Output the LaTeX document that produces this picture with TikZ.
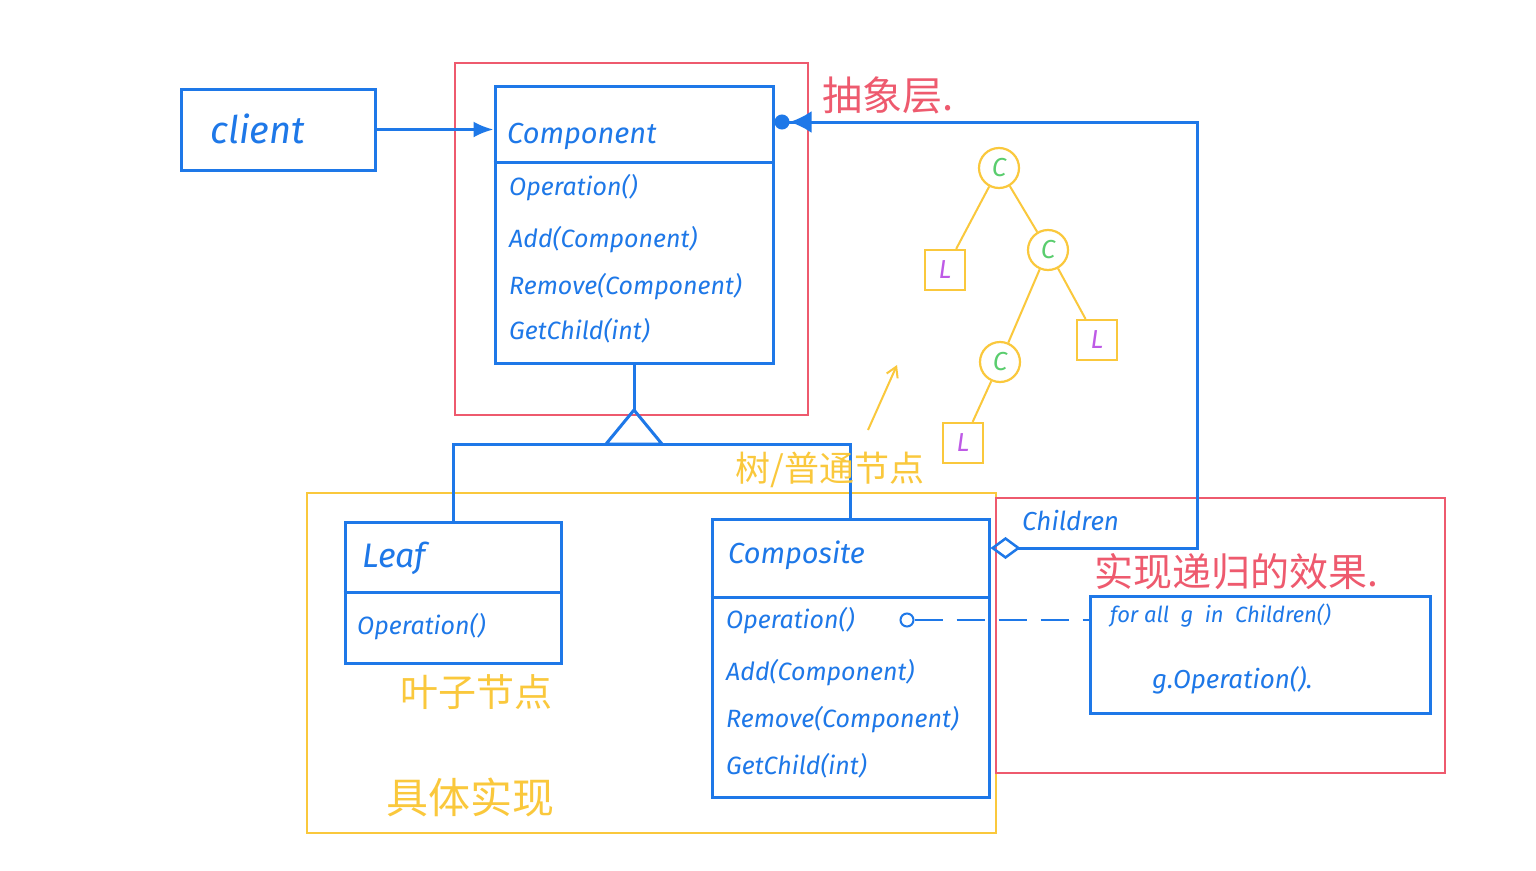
\documentclass[tikz,border=0pt]{standalone}
\usepackage{fontspec}
\setmainfont{Fira Sans}
\newfontfamily\cjk{Noto Sans CJK SC}
\usetikzlibrary{arrows.meta}
\definecolor{umlblue}{RGB}{30,120,232}
\definecolor{pencilred}{RGB}{238,90,110}
\definecolor{pencilyellow}{RGB}{250,200,60}
\definecolor{leafgreen}{RGB}{90,205,110}
\definecolor{leafpurple}{RGB}{190,90,230}
\begin{document}
\begin{tikzpicture}[x=1pt, y=-1pt,
	umlbox/.style={draw=umlblue, line width=3pt, rectangle, inner sep=0pt},
	umlline/.style={draw=umlblue, line width=3pt},
	txt/.style={text=umlblue, font=\itshape\fontsize{#1}{#1}\selectfont, inner sep=0pt, anchor=west},
	note/.style={font=\cjk\fontsize{#1}{#1}\selectfont, inner sep=0pt},
	frame/.style={draw=#1, line width=1.2pt},
	cnode/.style={draw=pencilyellow, line width=2.2pt, circle, minimum size=40pt, inner sep=0pt,
		text=leafgreen, font=\itshape\fontsize{26}{26}\selectfont},
	lnode/.style={draw=pencilyellow, line width=2.2pt, rectangle, minimum size=40pt, inner sep=0pt,
		text=leafpurple, font=\itshape\fontsize{26}{26}\selectfont},
	twig/.style={draw=pencilyellow, line width=2pt}]

	\useasboundingbox[fill=white] (0,0) rectangle (1536,870);

% Marcos
	\draw[frame=pencilred] (455,63) rectangle (808,415);
	\draw[frame=pencilyellow] (307,493) rectangle (996,833);
	\draw[frame=pencilred] (996,498) rectangle (1445,773);

% Clases
	\node[umlbox, minimum width=194pt, minimum height=81pt] (client) at (278,129.5) {};
	\node[txt=38] at (210,129) {client};

	\node[umlbox, minimum width=278pt, minimum height=277pt] (comp) at (634,224.5) {};
	\draw[umlline] (comp.west |- 0,162) -- (comp.east |- 0,162);
	\node[txt=29] at (507,136) {Component};
	\node[txt=25] at (509,188) {Operation()};
	\node[txt=25] at (509,240) {Add(Component)};
	\node[txt=25] at (509,287) {Remove(Component)};
	\node[txt=25] at (509,331) {GetChild(int)};

	\node[umlbox, minimum width=216pt, minimum height=141pt] (leaf) at (453,592.5) {};
	\draw[umlline] (leaf.west |- 0,592) -- (leaf.east |- 0,592);
	\node[txt=34] at (362,558) {Leaf};
	\node[txt=25] at (357,627) {Operation()};

	\node[umlbox, minimum width=277pt, minimum height=278pt] (composite) at (850.5,658) {};
	\draw[umlline] (composite.west |- 0,597) -- (composite.east |- 0,597);
	\node[txt=29] at (728,555) {Composite};
	\node[txt=25] at (726,621) {Operation()};
	\node[txt=25] at (726,673) {Add(Component)};
	\node[txt=25] at (726,720) {Remove(Component)};
	\node[txt=25] at (726,766) {GetChild(int)};

	\node[umlbox, minimum width=340pt, minimum height=117pt] (forall) at (1260,654.5) {};
	\node[txt=22] at (1110,616) {for all \ g \ in \ Children()};
	\node[txt=26] at (1152,680) {g.Operation().};

% Relaciones
	\draw[umlline, -{Latex[length=20pt, width=16pt]}] (client.east) -- (client.east -| comp.west);

	\coordinate (tri) at (comp.south |- 0,444);
	\draw[umlline, line join=miter] (tri) -- ++(-28,0) -- ++(28,-34) -- ++(28,34) -- cycle;
	\draw[umlline] (comp.south) -- ++(0,47);
	\draw[umlline] (leaf.north) |- (composite.north |- tri) -- (composite.north);

	\coordinate (aggdown) at (1197,548);
	\coordinate (aggup) at (1197,122);
	\draw[umlline, {Diamond[open, length=30pt, width=22pt, line width=2.5pt]}-{Latex[length=22pt, width=22pt]Circle[length=15pt]}]
		(composite.east |- aggdown) -- (aggdown) -- (aggup) -- (aggup -| comp.east);
	\node[txt=26] at (1022,521) {Children};

	\node[draw=umlblue, line width=2pt, circle, minimum size=13pt, inner sep=0pt] (dot) at (907,620) {};
	\draw[umlline, line width=2pt, dash pattern=on 28pt off 14pt] (dot.east) -- (dot -| forall.west);

% Arbol
	\node[cnode] (c1) at (999,168) {C};
	\node[cnode] (c2) at (1048,250) {C};
	\node[cnode] (c3) at (1000,362) {C};
	\node[lnode] (l1) at (945,270) {L};
	\node[lnode] (l2) at (1097,340) {L};
	\node[lnode] (l3) at (963,443) {L};
	\foreach \a/\b in {c1/l1, c1/c2, c2/c3, c2/l2, c3/l3}
		\draw[twig] (\a) -- (\b);

	\coordinate (sa) at (868,430);
	\coordinate (sb) at (897,365);
	\draw[twig, -{Straight Barb[length=10pt, width=12pt]}] (sa) -- (sb);

% Notas
	\node[note=40, text=pencilred] at (888,95) {抽象层.};
	\node[note=35, text=pencilyellow] at (830,470) {树/普通节点};
	\node[note=39, text=pencilred] at (1236,572) {实现递归的效果.};
	\node[note=38, text=pencilyellow] at (476,692) {叶子节点};
	\node[note=42, text=pencilyellow] at (470,797) {具体实现};

\end{tikzpicture}
\end{document}
